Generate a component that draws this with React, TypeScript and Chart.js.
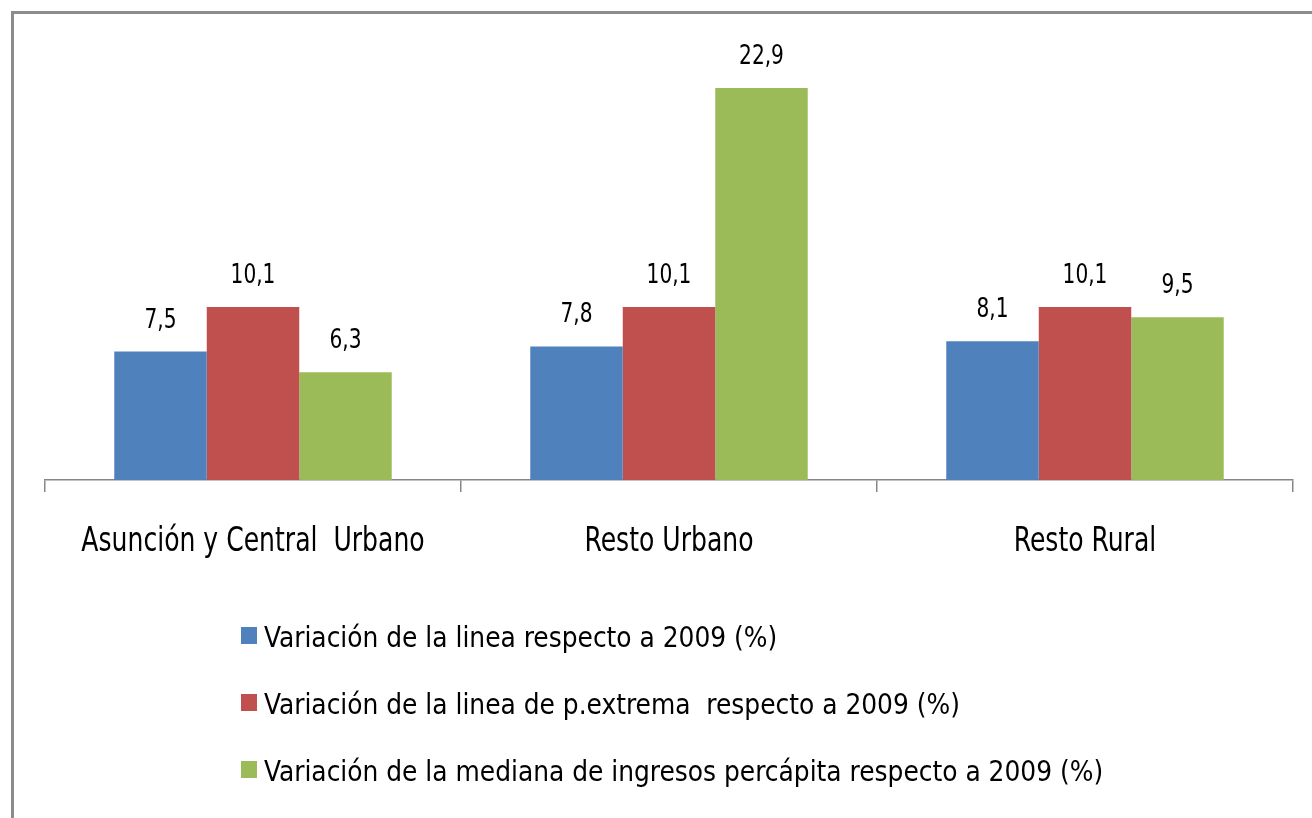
import React, { useEffect, useRef } from "react";
import { Chart, registerables } from "chart.js";

Chart.register(...registerables);

const categories = ["Asunción y Central  Urbano", "Resto Urbano", "Resto Rural"];
const seriesNames = [
  "Variación de la linea respecto a 2009 (%)",
  "Variación de la linea de p.extrema  respecto a 2009 (%)",
  "Variación de la mediana de ingresos percápita respecto a 2009 (%)",
];
const lineaValues = [7.5, 7.8, 8.1];
const extremaValues = [10.1, 10.1, 10.1];
const medianaValues = [6.3, 22.9, 9.5];
const seriesColors = ["#4F81BD", "#C0504D", "#9BBB59"];

const FONT = "'DejaVu Sans Condensed', 'Liberation Sans Narrow', sans-serif";

const fmt = (v: number) => v.toFixed(1).replace(".", ",");

function squeezedText(ctx: any, text: string, x: number, y: number, sx: number, align: string) {
  ctx.save();
  ctx.translate(x, y);
  ctx.scale(sx, 1);
  ctx.textAlign = align;
  ctx.textBaseline = "alphabetic";
  ctx.fillText(text, 0, 0);
  ctx.restore();
}

const valueLabels = {
  id: "valueLabels",
  afterDatasetsDraw(chart: any) {
    const ctx = chart.ctx;
    ctx.save();
    ctx.font = `27px ${FONT}`;
    ctx.fillStyle = "#000";
    chart.data.datasets.forEach((ds: any, i: number) => {
      const meta = chart.getDatasetMeta(i);
      meta.data.forEach((bar: any, j: number) => {
        squeezedText(ctx, fmt(ds.data[j]), bar.x, bar.y - 24, 0.83, "center");
      });
    });
    ctx.restore();
  },
};

const categoryLabels = {
  id: "categoryLabels",
  afterDraw(chart: any) {
    const ctx = chart.ctx;
    const xs = chart.scales.x;
    ctx.save();
    ctx.font = `34px ${FONT}`;
    ctx.fillStyle = "#000";
    chart.data.labels.forEach((lab: string, i: number) => {
      squeezedText(ctx, lab, xs.getPixelForValue(i), 551, 0.82, "center");
    });
    ctx.restore();
  },
};

const customLegend = {
  id: "customLegend",
  afterDraw(chart: any) {
    const ctx = chart.ctx;
    ctx.save();
    ctx.font = `28px ${FONT}`;
    chart.data.datasets.forEach((ds: any, i: number) => {
      const base = 647 + 67 * i;
      ctx.fillStyle = ds.backgroundColor;
      ctx.fillRect(241, base - 20, 16, 17);
      ctx.fillStyle = "#000";
      squeezedText(ctx, ds.label, 264, base, 0.99, "left");
    });
    ctx.restore();
  },
};

export default function App() {
  const ref = useRef<HTMLCanvasElement>(null);
  useEffect(() => {
    if (!ref.current) return;
    const chart = new Chart(ref.current, {
      type: "bar",
      data: {
        labels: categories,
        datasets: [lineaValues, extremaValues, medianaValues].map((d, i) => ({
          label: seriesNames[i],
          data: d,
          backgroundColor: seriesColors[i],
          borderWidth: 0,
          categoryPercentage: 0.667,
          barPercentage: 1,
        })),
      },
      options: {
        responsive: false,
        animation: false,
        layout: { padding: { top: 52, left: 45, right: 19, bottom: 0 } },
        plugins: { legend: { display: false }, tooltip: { enabled: false } },
        scales: {
          x: {
            offset: true,
            afterFit: (scale: any) => {
              scale.height = 338;
            },
            grid: {
              offset: true,
              drawOnChartArea: false,
              drawTicks: true,
              tickLength: 12,
              color: "#868686",
              lineWidth: 1.5,
            },
            border: { color: "#868686", width: 1.5 },
            ticks: { display: false, autoSkip: false },
          },
          y: { display: false, min: 0, max: 25 },
        },
      },
      plugins: [valueLabels, categoryLabels, customLegend],
    });
    return () => chart.destroy();
  }, []);
  return (
    <div style={{ position: "fixed", left: 0, top: 0, width: 1312, height: 818, background: "#fff", overflow: "hidden" }}>
      <div
        style={{
          position: "absolute",
          left: 11,
          top: 11,
          width: 1400,
          height: 900,
          borderLeft: "3px solid #8c8c8c",
          borderTop: "3px solid #8c8c8c",
        }}
      />
      <canvas ref={ref} width={1312} height={818} style={{ position: "absolute", left: 0, top: 0 }} />
    </div>
  );
}
